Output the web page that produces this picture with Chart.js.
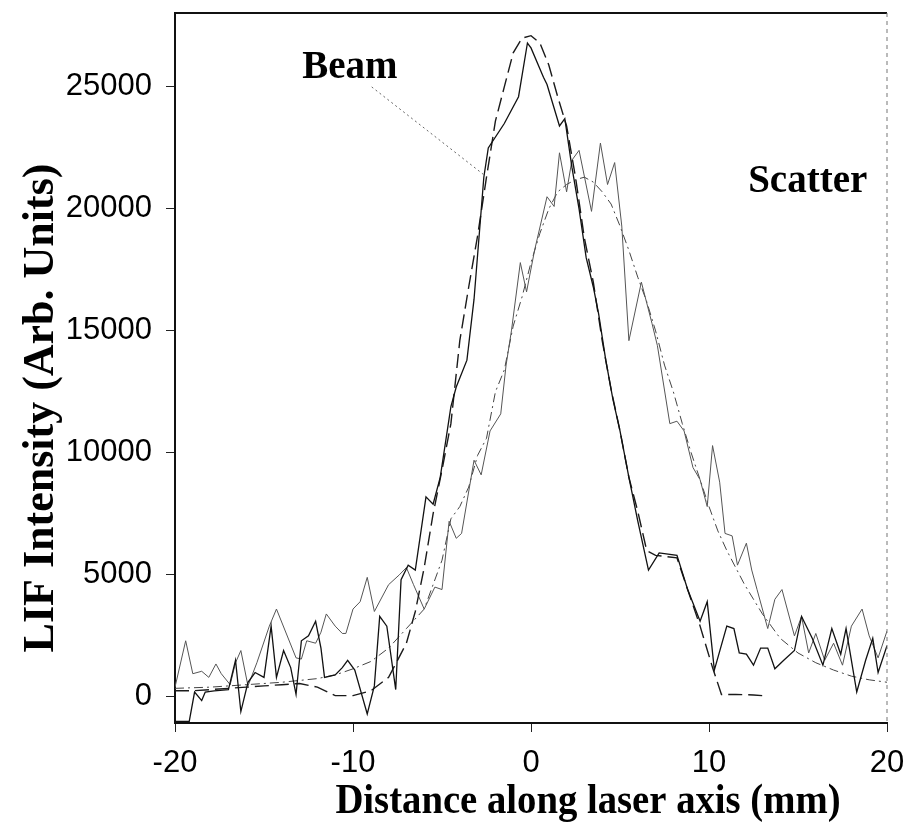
<!DOCTYPE html>
<html>
<head>
<meta charset="utf-8">
<script src="https://cdn.jsdelivr.net/npm/chart.js@4.4.1/dist/chart.umd.min.js"></script>
<style>
  html, body { margin: 0; padding: 0; background: #fff; }
  #wrap { position: relative; width: 907px; height: 824px; }
</style>
</head>
<body>
<div id="wrap"><canvas id="lifChart"></canvas></div>
<script>
// Values (x in mm, intensity in arb. units)
const beamX = [-20, -19.2, -18.9, -18.5, -18.3, -17.8, -17, -16.6, -16.3, -15.9, -15.5, -15, -14.6, -14.3, -13.9, -13.5, -13.2, -12.9, -12.5, -12.1, -11.8, -11.6, -11, -10.6, -10.3, -9.9, -9.2, -8.8, -8.5, -8.1, -7.6, -7.3, -6.9, -6.5, -5.9, -5.5, -5.1, -4.5, -4.2, -3.6, -3.2, -2.65, -2.4, -1.5, -0.7, -0.2, 0, 0.7, 0.9, 1.6, 1.9, 2.3, 2.7, 3.1, 3.5, 3.8, 4.2, 4.6, 5, 5.5, 6, 6.6, 7.2, 8.2, 8.8, 9.5, 9.9, 10.3, 11, 11.4, 11.7, 12.1, 12.5, 12.9, 13.3, 13.7, 14.2, 14.8, 15.2, 15.8, 16.4, 16.9, 17.4, 17.7, 18.3, 18.8, 19.2, 19.5, 20];
const beamY = [-1000, -1000, 200, -150, 200, 250, 300, 1500, -600, 600, 1000, 800, 2900, 800, 1900, 1200, 100, 2300, 2500, 3100, 2000, 800, 900, 1200, 1500, 1100, -700, 450, 3300, 2900, 300, 4800, 5400, 5200, 8200, 7900, 9000, 11900, 12700, 13800, 16300, 21300, 22500, 23500, 24600, 26800, 26600, 25400, 25100, 23400, 23700, 21700, 20000, 18000, 16800, 15700, 13800, 12200, 10900, 9000, 7200, 5200, 5900, 5800, 4400, 3100, 3900, 1100, 2900, 2800, 1800, 1750, 1300, 2000, 2000, 1150, 1500, 1900, 3300, 2400, 1300, 2800, 1750, 2800, 200, 1500, 2400, 1000, 2100];

const beamFitX = [-20, -19, -18, -17, -16, -15, -14, -13, -12, -11, -10, -9, -8, -7, -6.5, -6, -5.5, -5, -4.5, -4, -3.5, -3, -2.5, -2, -1.5, -1, -0.5, 0, 0.5, 1, 1.5, 2, 2.5, 3, 3.5, 4, 4.5, 5, 5.5, 6, 6.5, 7, 8.2, 8.8, 9.5, 10.2, 10.7, 11.5, 12.5, 13];
const beamFitY = [250, 250, 300, 350, 400, 450, 500, 550, 400, 50, 50, 250, 800, 2200, 3500, 5300, 7500, 9300, 11200, 14600, 16800, 18900, 21300, 23600, 25000, 26400, 27000, 27100, 26800, 25900, 24600, 23400, 21300, 18800, 17000, 14600, 12600, 10900, 9000, 7600, 6000, 5800, 5700, 4400, 2900, 1200, 100, 100, 80, 50];

const scatterX = [-20, -19.4, -19, -18.5, -18.1, -17.7, -17.4, -16.9, -16.6, -16.3, -15.9, -15.4, -14.7, -14.3, -13.2, -12.9, -12.6, -12.1, -11.8, -11.5, -11, -10.6, -10.4, -10, -9.6, -9.2, -8.8, -8, -7.4, -7, -6.6, -6, -5.4, -5, -4.6, -4.2, -3.9, -3.2, -2.8, -2.3, -1.7, -1.4, -1.1, -0.6, -0.25, 0.2, 0.9, 1.3, 1.6, 2, 2.3, 2.7, 3.4, 3.9, 4.3, 4.7, 5.1, 5.5, 6.2, 6.8, 7.1, 7.8, 8.2, 8.6, 9.1, 9.5, 9.9, 10.2, 10.6, 10.9, 11.3, 11.6, 12.1, 12.4, 12.7, 13.3, 13.7, 14.1, 14.8, 15.2, 15.6, 16, 16.5, 17, 17.5, 18, 18.6, 19, 19.5, 20];
const scatterY = [400, 2300, 950, 1050, 800, 1350, 950, 500, 1400, 1900, 450, 1400, 2900, 3600, 1600, 1550, 2300, 2200, 2650, 3400, 2900, 2600, 2600, 3600, 3900, 4900, 3500, 4600, 5000, 5300, 4600, 3600, 4500, 4400, 7200, 6500, 6700, 9700, 9100, 10900, 11600, 13600, 15000, 17800, 16600, 18300, 20500, 20100, 22300, 20700, 22000, 22400, 19900, 22700, 21000, 21900, 19300, 14600, 17000, 15300, 14400, 11200, 11300, 10900, 9400, 8900, 7800, 10300, 8800, 6700, 6600, 5400, 6300, 5200, 4400, 2800, 4000, 4400, 2500, 3300, 1800, 2600, 1500, 2200, 1300, 2900, 3600, 2500, 1600, 2700];

const scatterFitX = [-20, -18, -16, -14, -12, -11, -10, -9, -8, -7, -6, -5, -4.5, -4, -3.5, -3, -2.5, -2, -1.5, -1, -0.5, 0, 0.5, 1, 1.5, 2, 2.5, 3, 3.5, 4, 4.5, 5, 5.5, 6, 6.5, 7, 7.5, 8, 8.5, 9, 9.5, 10, 10.5, 11, 11.5, 12, 12.5, 13, 13.5, 14, 15, 16, 17, 18, 19, 20];
const scatterFitY = [350, 400, 500, 600, 750, 900, 1150, 1450, 2000, 2800, 3600, 5600, 7300, 7800, 8600, 9900, 10600, 12500, 13400, 15200, 16400, 17800, 19000, 20000, 20700, 21000, 21200, 21300, 21100, 20700, 20200, 19300, 18300, 17200, 16200, 15000, 13600, 12500, 11200, 10000, 8900, 7800, 6800, 6000, 5300, 4600, 4000, 3400, 2900, 2400, 1800, 1400, 1100, 850, 700, 600];

const xTicks = [-20, -10, 0, 10, 20];
const yTicks = [0, 5000, 10000, 15000, 20000, 25000];

const xTitle = "Distance along laser axis (mm)";
const yTitle = "LIF Intensity (Arb. Units)";

function toPoints(xs, ys) {
  return xs.map((x, i) => ({ x: x, y: ys[i] }));
}

const serifBold = "'Liberation Serif', 'Times New Roman', serif";
const sans = "'Liberation Sans', Arial, sans-serif";

// frame, annotations and axis titles
const decorations = {
  id: "decorations",
  afterDatasetsDraw(chart) {
    const { ctx, chartArea: a, scales } = chart;
    const sx = scales.x, sy = scales.y;
    ctx.save();

    ctx.strokeStyle = "#111";
    ctx.lineWidth = 2;
    ctx.beginPath();
    ctx.moveTo(a.left, a.top);
    ctx.lineTo(a.right, a.top);
    ctx.stroke();

    ctx.strokeStyle = "#777";
    ctx.lineWidth = 1;
    ctx.setLineDash([4, 4]);
    ctx.beginPath();
    ctx.moveTo(a.right, a.top);
    ctx.lineTo(a.right, a.bottom);
    ctx.stroke();

    // leader from "Beam" to the curve
    ctx.strokeStyle = "#666";
    ctx.setLineDash([2, 3]);
    ctx.beginPath();
    ctx.moveTo(sx.getPixelForValue(-8.95), sy.getPixelForValue(25000));
    ctx.lineTo(sx.getPixelForValue(-2.65), sy.getPixelForValue(21400));
    ctx.stroke();
    ctx.setLineDash([]);

    ctx.fillStyle = "#000";
    ctx.textBaseline = "alphabetic";
    ctx.textAlign = "left";
    ctx.font = "bold 39px " + serifBold;
    ctx.fillText("Beam", sx.getPixelForValue(-12.85), sy.getPixelForValue(25350));
    ctx.fillText("Scatter", sx.getPixelForValue(12.2), sy.getPixelForValue(20700));

    ctx.font = "bold 43px " + serifBold;
    ctx.textAlign = "center";
    ctx.save();
    ctx.translate(588, 813);
    ctx.scale(0.9, 1);
    ctx.fillText(xTitle, 0, 0);
    ctx.restore();

    ctx.font = "bold 44px " + serifBold;
    ctx.translate(53, 408);
    ctx.rotate(-Math.PI / 2);
    ctx.fillText(yTitle, 0, 0);
    ctx.restore();
  }
};

document.addEventListener("DOMContentLoaded", function () {
  const ctx = document.getElementById("lifChart");

  new Chart(ctx, {
    type: "line",
    data: {
      datasets: [
        {
          label: "Beam",
          data: toPoints(beamX, beamY),
          borderColor: "#111",
          borderWidth: 1.3,
        },
        {
          label: "Beam fit",
          data: toPoints(beamFitX, beamFitY),
          borderColor: "#1a1a1a",
          borderWidth: 1.4,
          borderDash: [14, 6],
        },
        {
          label: "Scatter",
          data: toPoints(scatterX, scatterY),
          borderColor: "#555",
          borderWidth: 1,
        },
        {
          label: "Scatter fit",
          data: toPoints(scatterFitX, scatterFitY),
          borderColor: "#444",
          borderWidth: 1,
          borderDash: [9, 4, 2, 4],
        },
      ],
    },
    options: {
      responsive: true,
      maintainAspectRatio: false,
      animation: false,
      layout: { padding: { top: 13, right: 20, left: 0, bottom: 0 } },
      elements: {
        point: { radius: 0 },
        line: { tension: 0, fill: false },
      },
      plugins: {
        legend: { display: false },
        tooltip: { enabled: false },
      },
      scales: {
        x: {
          type: "linear",
          min: -20,
          max: 20,
          afterBuildTicks(scale) {
            scale.ticks = xTicks.map((v) => ({ value: v }));
          },
          afterFit(scale) {
            scale.height = 101;
            scale.paddingLeft = 0;
            scale.paddingRight = 0;
          },
          grid: {
            drawOnChartArea: false,
            drawTicks: true,
            tickLength: 9,
            color: "#222",
          },
          border: { display: true, color: "#111", width: 2 },
          ticks: {
            color: "#000",
            font: { family: sans, size: 31 },
            padding: 13,
            maxRotation: 0,
          },
        },
        y: {
          type: "linear",
          min: -1070,
          max: 28030,
          afterBuildTicks(scale) {
            scale.ticks = yTicks.map((v) => ({ value: v }));
          },
          afterFit(scale) {
            scale.width = 175;
            scale.paddingTop = 0;
            scale.paddingBottom = 0;
          },
          grid: {
            drawOnChartArea: false,
            drawTicks: true,
            tickLength: 9,
            color: "#222",
          },
          border: { display: true, color: "#111", width: 2 },
          ticks: {
            color: "#000",
            font: { family: sans, size: 31 },
            padding: 14,
            callback: (v) => String(v),
          },
        },
      },
    },
    plugins: [decorations],
  });
});
</script>
</body>
</html>
